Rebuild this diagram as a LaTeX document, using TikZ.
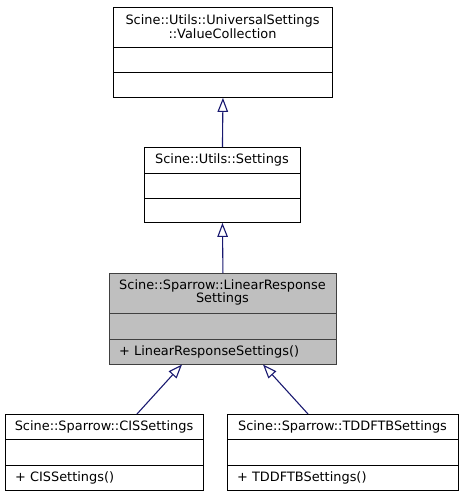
\documentclass[tikz,border=0pt]{standalone}
\usepackage{fontspec}
\setmainfont{DejaVu Sans}
\usetikzlibrary{arrows.meta}
\definecolor{edgeblue}{HTML}{191970}
\definecolor{curfill}{HTML}{BFBFBF}
\definecolor{curdraw}{HTML}{404040}
\tikzset{
  classbox/.style={draw=black, line width=0.9pt, fill=white, rectangle, inner sep=0pt, anchor=north west},
  curbox/.style={classbox, draw=curdraw, fill=curfill},
  title/.style={font=\fontsize{12.9}{13.8}\selectfont, align=center, inner sep=0pt},
  member/.style={font=\fontsize{12.9}{13.8}\selectfont, anchor=west, inner sep=0pt},
  edge/.style={draw=edgeblue, line width=1.1pt, -{Triangle[open, length=14pt, width=10.5pt, fill=white]}}
}
\begin{document}
\begin{tikzpicture}[x=1pt, y=-1pt]
\useasboundingbox (0,0) rectangle (463,496);
% Box 1: ValueCollection
\node[classbox, minimum width=219pt, minimum height=90pt] (b1) at (113,7) {};
\draw[line width=0.9pt] (113,47) -- (332,47);
\draw[line width=0.9pt] (113,72) -- (332,72);
\node[title] (t1) at (222.5,26.5) {Scine::Utils::UniversalSettings\\::ValueCollection};
% Box 2: Settings
\node[classbox, minimum width=156pt, minimum height=75pt] (b2) at (144,147) {};
\draw[line width=0.9pt] (144,173) -- (300,173);
\draw[line width=0.9pt] (144,198) -- (300,198);
\node[title] (t2) at (222,160) {Scine::Utils::Settings};
% Box 3: LinearResponseSettings
\node[curbox, minimum width=227pt, minimum height=91pt] (b3) at (109,273) {};
\draw[line width=0.9pt, curdraw] (109,313) -- (336,313);
\draw[line width=0.9pt, curdraw] (109,339) -- (336,339);
\node[title] (t3) at (222.5,292.5) {Scine::Sparrow::LinearResponse\\Settings};
\node[member] (m3) at (119,351.5) {+ LinearResponseSettings()};
% Box 4: CISSettings
\node[classbox, minimum width=198pt, minimum height=76pt] (b4) at (5,414) {};
\draw[line width=0.9pt] (5,439) -- (203,439);
\draw[line width=0.9pt] (5,465) -- (203,465);
\node[title] (t4) at (104,426.5) {Scine::Sparrow::CISSettings};
\node[member] (m4) at (15,477.5) {+ CISSettings()};
% Box 5: TDDFTBSettings
\node[classbox, minimum width=231pt, minimum height=76pt] (b5) at (227,414) {};
\draw[line width=0.9pt] (227,439) -- (458,439);
\draw[line width=0.9pt] (227,465) -- (458,465);
\node[title] (t5) at (342.5,426.5) {Scine::Sparrow::TDDFTBSettings};
\node[member] (m5) at (237,477.5) {+ TDDFTBSettings()};
% connection points
\coordinate (c4) at (137,414);
\coordinate (c3a) at (182,364.5);
\coordinate (c5) at (308,414);
\coordinate (c3b) at (263,364.5);
% edges
\draw[edge] (b2.north) -- (b1.south);
\draw[edge] (b3.north) -- (b2.south);
\draw[edge] (c4) -- (c3a);
\draw[edge] (c5) -- (c3b);
\end{tikzpicture}
\end{document}
